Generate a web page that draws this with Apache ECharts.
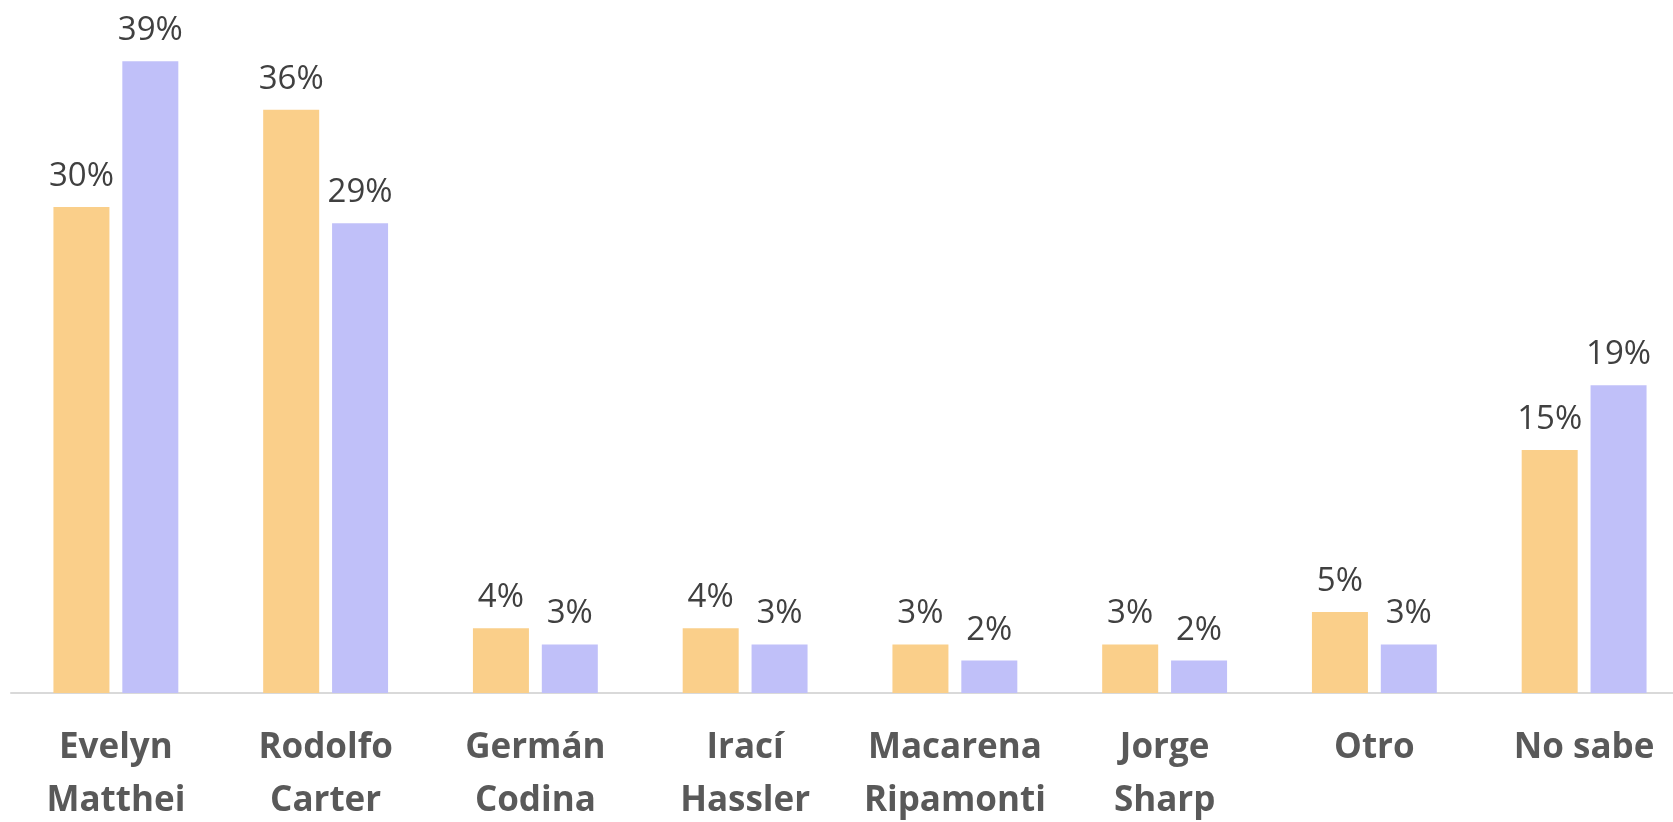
<!DOCTYPE html>
<html>
<head>
<meta charset="utf-8">
<script src="https://cdn.jsdelivr.net/npm/echarts@6/dist/echarts.min.js"></script>
<style>
html,body{margin:0;padding:0;background:#fff;}
#chart{width:1673px;height:822px;}
</style>
</head>
<body>
<div id="chart"></div>
<script>
const categories = ["Evelyn\nMatthei", "Rodolfo\nCarter", "Germán\nCodina", "Irací\nHassler", "Macarena\nRipamonti", "Jorge\nSharp", "Otro", "No sabe"];
const seriesA = [30, 36, 4, 4, 3, 3, 5, 15];
const seriesB = [39, 29, 3, 3, 2, 2, 3, 19];

const chart = echarts.init(document.getElementById('chart'));
const labelStyle = {
  show: true,
  position: 'top',
  distance: 14,
  formatter: '{c}%',
  color: '#404040',
  fontFamily: 'Open Sans',
  fontSize: 33
};
chart.setOption({
  animation: false,
  grid: {left: 11, width: 1678, top: 45, height: 648, containLabel: false, outerBoundsMode: 'none'},
  xAxis: {
    type: 'category',
    data: categories,
    axisTick: {show: false},
    axisLine: {lineStyle: {color: '#D9D9D9', width: 2}},
    axisLabel: {
      color: '#595959',
      fontFamily: 'Open Sans',
      fontWeight: 'bold',
      fontSize: 35,
      lineHeight: 53,
      margin: 29,
      interval: 0
    }
  },
  yAxis: {type: 'value', min: 0, max: 40, show: false, splitLine: {show: false}},
  series: [
    {name: 'Serie 1', type: 'bar', data: seriesA, barWidth: 56, barGap: '23%',
     itemStyle: {color: '#FACF8A'}, label: labelStyle},
    {name: 'Serie 2', type: 'bar', data: seriesB, barWidth: 56, barGap: '23%',
     itemStyle: {color: '#C0C0F9'}, label: labelStyle}
  ]
});
</script>
</body>
</html>
